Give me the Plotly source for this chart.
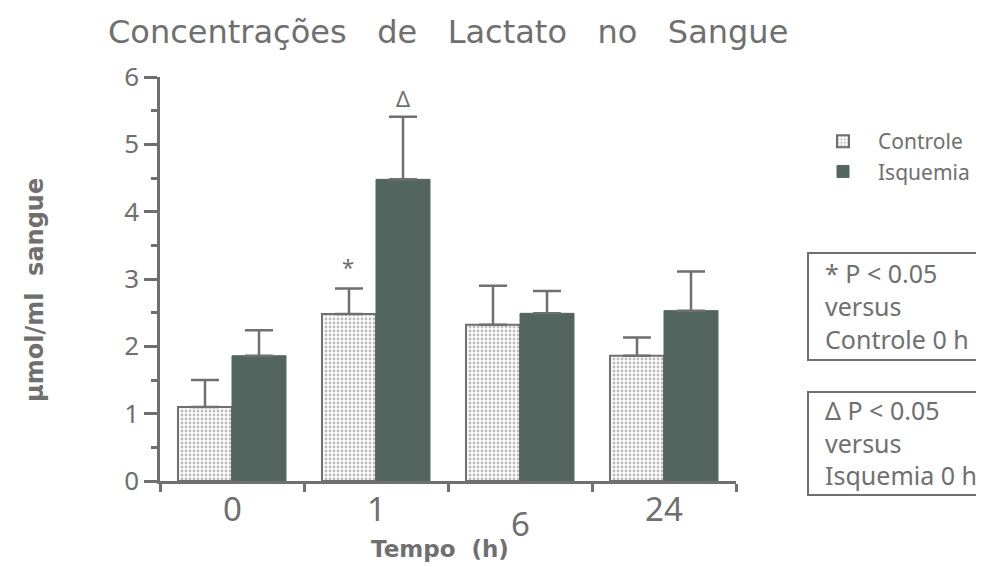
import plotly.graph_objects as go

# ---- data ----
tempo_labels = ["0", "1", "6", "24"]
controle_mean = [1.10, 2.48, 2.32, 1.86]
controle_err = [0.40, 0.38, 0.58, 0.27]
isquemia_mean = [1.86, 4.48, 2.49, 2.53]
isquemia_err = [0.38, 0.93, 0.33, 0.58]
y_ticks = [0, 1, 2, 3, 4, 5, 6]
box1_lines = ["* P < 0.05", "versus", "Controle 0 h"]
box2_lines = ["\u0394 P < 0.05", "versus", "Isquemia 0 h"]

GRAY = "#6f6f6f"
DARK = "#52665f"
FONT = "Noto Sans"

xpos = list(range(len(tempo_labels)))

fig = go.Figure()
fig.add_trace(go.Bar(
    x=xpos, y=controle_mean, name="Controle",
    marker=dict(color="white", line=dict(color=GRAY, width=2),
                pattern=dict(shape=".", fgcolor="#7a7a7a", bgcolor="white", size=4, solidity=0.4)),
    error_y=dict(type="data", array=controle_err, arrayminus=[0] * 4, symmetric=False,
                 color=GRAY, thickness=2.5, width=14),
))
fig.add_trace(go.Bar(
    x=xpos, y=isquemia_mean, name="Isquemia",
    marker=dict(color=DARK, line=dict(color=DARK, width=1)),
    error_y=dict(type="data", array=isquemia_err, arrayminus=[0] * 4, symmetric=False,
                 color=GRAY, thickness=2.5, width=14),
))

# page offset of the figure inside the html body (default body margin)
OFF = 8
W, H = 984 - OFF, 567 - OFF
L, T = 160 - OFF, 77 - OFF
R, B = W - (736 - OFF), H - (481 - OFF)
pw, ph = W - L - R, H - T - B


def px_x(px):
    return (px - OFF - L) / pw


def px_y(py):
    return (H - B - (py - OFF)) / ph


fig.update_layout(
    width=W, height=H,
    margin=dict(l=L, r=R, t=T, b=B, autoexpand=False),
    paper_bgcolor="white", plot_bgcolor="white",
    barmode="group", bargap=0.25, bargroupgap=0,
    showlegend=True,
    legend=dict(x=px_x(808), y=px_y(121), xanchor="left", yanchor="top",
                font=dict(family=FONT, size=21, color=GRAY), itemwidth=60,
                tracegroupgap=0, bgcolor="rgba(0,0,0,0)"),
    title=dict(text="Concentrações   de   Lactato   no   Sangue",
               font=dict(family="DejaVu Sans", size=32, color=GRAY),
               xref="container", x=(108 - OFF) / W, xanchor="left",
               yref="container", y=1 - (32 - OFF) / H, yanchor="middle"),
    xaxis=dict(range=[-0.5, 3.5], showgrid=False, zeroline=False,
               showline=True, linecolor=GRAY, linewidth=2.5,
               tickvals=xpos, ticktext=[""] * 4, ticks="",
               minor=dict(tickmode="array", tickvals=[-0.5, 0.5, 1.5, 2.5, 3.5],
                          ticks="outside", ticklen=8, tickwidth=2.5, tickcolor=GRAY, showgrid=False)),
    yaxis=dict(range=[0, 6], showgrid=False, zeroline=False,
               showline=True, linecolor=GRAY, linewidth=2.5,
               tickvals=y_ticks, ticks="outside", ticklen=13, tickwidth=2.5, tickcolor=GRAY,
               tickfont=dict(family=FONT, size=26, color=GRAY),
               minor=dict(dtick=0.5, ticks="outside", ticklen=6, tickwidth=2.5, tickcolor=GRAY, showgrid=False)),
)

# x category labels
label_shift = [0, 0, -15, 0]
for xi, lab, sh in zip(xpos, tempo_labels, label_shift):
    fig.add_annotation(x=xi, y=px_y(508), xref="x", yref="paper", text=lab, showarrow=False,
                       yshift=sh, yanchor="middle", font=dict(family=FONT, size=33, color=GRAY))

# axis titles
fig.add_annotation(x=px_x(440), y=px_y(549), xref="paper", yref="paper", text="<b>Tempo  (h)</b>",
                   showarrow=False, yanchor="middle", font=dict(family="DejaVu Sans", size=23, color=GRAY))
fig.add_annotation(x=px_x(35), y=px_y(290), xref="paper", yref="paper", text="<b>µmol/ml  sangue</b>",
                   textangle=-90, showarrow=False, xanchor="center", yanchor="middle",
                   font=dict(family="DejaVu Sans", size=24, color=GRAY))

# significance markers
fig.add_annotation(x=1, y=controle_mean[1] + controle_err[1], xref="x", yref="y", text="*",
                   xshift=-28, yshift=22, showarrow=False, font=dict(family=FONT, size=22, color=GRAY))
fig.add_annotation(x=1, y=isquemia_mean[1] + isquemia_err[1], xref="x", yref="y", text="\u0394",
                   xshift=27, yshift=19, showarrow=False, font=dict(family=FONT, size=22, color=GRAY))

# note boxes
for (top, bot), lines, ys in [((253, 360), box1_lines, [273, 306, 339]),
                              ((392, 495), box2_lines, [410, 443, 475])]:
    fig.add_shape(type="rect", xref="paper", yref="paper", x0=px_x(808), x1=px_x(1010),
                  y0=px_y(bot), y1=px_y(top), line=dict(color=GRAY, width=2))
    for line, yy in zip(lines, ys):
        fig.add_annotation(x=px_x(823), y=px_y(yy), xref="paper", yref="paper", text=line,
                           xanchor="left", yanchor="middle", showarrow=False,
                           font=dict(family=FONT, size=25, color=GRAY))

fig.write_html("out.html")
